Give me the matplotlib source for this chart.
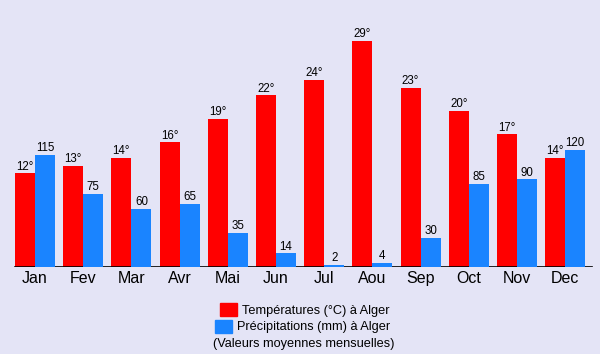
import numpy as np
import matplotlib.pyplot as plt
from matplotlib.patches import Rectangle

months = ['Jan', 'Fev', 'Mar', 'Avr', 'Mai', 'Jun', 'Jul', 'Aou', 'Sep', 'Oct', 'Nov', 'Dec']
temps = [12, 13, 14, 16, 19, 22, 24, 29, 23, 20, 17, 14]
precip = [115, 75, 60, 65, 35, 14, 2, 4, 30, 85, 90, 120]

red = '#ff0000'
blue = '#1a84ff'
bg = '#e4e4f6'
font = 'Liberation Sans'

fig = plt.figure(figsize=(6, 3.54), dpi=100)
fig.patch.set_facecolor(bg)

ax = fig.add_axes([0, 1 - 267/354, 1, 267/354])
ax2 = ax.twinx()
for a in (ax, ax2):
    a.set_facecolor('none')
    for s in a.spines.values():
        s.set_visible(False)
    a.set_yticks([])
    a.tick_params(length=0)

x = np.arange(len(months))
w = 20/48.2
ax.set_xlim(-35/48.2, 565/48.2)
ax.set_ylim(0, 267/7.8)
ax2.set_ylim(0, 267/0.975)

ax.bar(x - w/2, temps, w, color=red)
ax2.bar(x + w/2, precip, w, color=blue)

for xi, t in zip(x, temps):
    ax.annotate(f'{t}°', (xi - w/2, t), xytext=(0, 0.5), textcoords='offset points',
                ha='center', va='bottom', fontsize=8.3, family=font)
for xi, p in zip(x, precip):
    ax2.annotate(f'{p}', (xi + w/2, p), xytext=(0, 0.5), textcoords='offset points',
                 ha='center', va='bottom', fontsize=8.3, family=font)

ax.axhline(0, xmin=15/600, xmax=592/600, color='black', lw=1.2)

ax.set_xticks(x)
ax.set_xticklabels(months, fontsize=11.5, family=font)
ax.tick_params(axis='x', pad=3)

# legend
fig.patches.append(Rectangle((220/600, 1 - 316/354), 17/600, 13/354,
                             transform=fig.transFigure, color=red))
fig.patches.append(Rectangle((215/600, 1 - 333/354), 17/600, 13/354,
                             transform=fig.transFigure, color=blue))
fig.text(242/600, 1 - 311/354, 'Températures (°C) à Alger', fontsize=9.2,
         family=font, va='center')
fig.text(237/600, 1 - 327/354, 'Précipitations (mm) à Alger', fontsize=9.2,
         family=font, va='center')
fig.text(213/600, 1 - 344/354, '(Valeurs moyennes mensuelles)', fontsize=9.2,
         family=font, va='center')

fig.savefig('out.png', dpi=100, facecolor=bg)
